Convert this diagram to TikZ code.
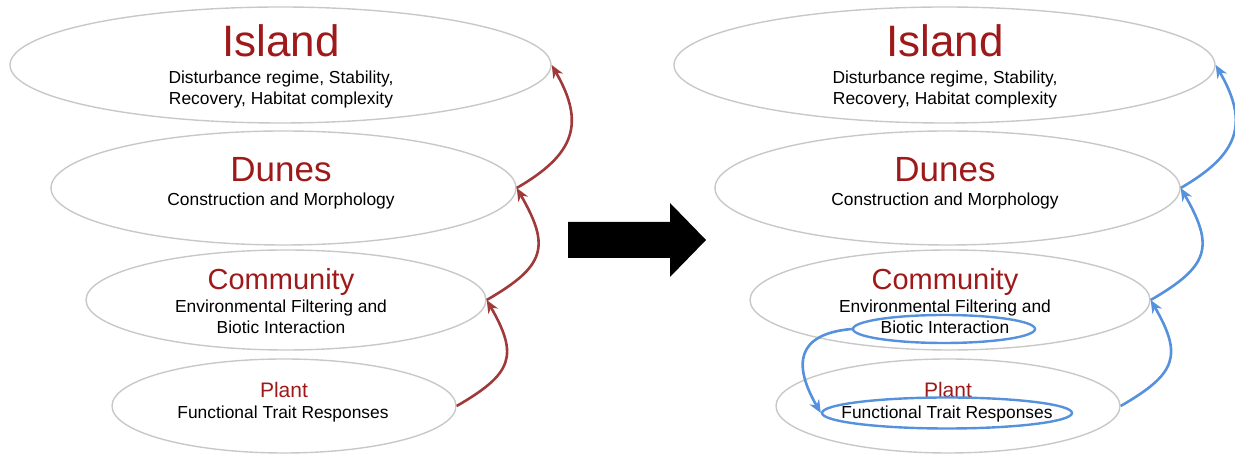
\documentclass[tikz,border=0pt]{standalone}
\usepackage{fontspec}
\setmainfont{Liberation Sans}
\usetikzlibrary{shapes.geometric,arrows.meta}

\definecolor{titlered}{HTML}{9E1A1A}
\definecolor{linkred}{HTML}{A03A3A}
\definecolor{linkblue}{HTML}{5591DC}
\definecolor{rimgray}{HTML}{C8C8C8}

\begin{document}
\begin{tikzpicture}[x=1pt,y=1pt,
    ring/.style={ellipse, draw=rimgray, line width=1.4pt, inner sep=0pt},
    hilite/.style={ellipse, draw=linkblue, line width=2.4pt, inner sep=0pt},
    ringtitle/.style={anchor=base, inner sep=0pt, text=titlered},
    ringtext/.style={anchor=base, inner sep=0pt, align=center, font=\fontsize{17.4}{21}\selectfont},
    uplink/.style={line width=2.6pt, -{Stealth[length=13pt,width=11pt]}, out=30, in=-60, looseness=1.5}]
    \useasboundingbox (0,0) rectangle (1235,454);
    % Horizontal offset of the right-hand stack
    \def\dx{664}

    % Left stack of levels
    \node[ring, minimum width=541pt, minimum height=116pt] (islandL) at (280.5,389) {};
    \node[ring, minimum width=465pt, minimum height=114pt] (dunesL) at (283.5,266) {};
    \node[ring, minimum width=400pt, minimum height=100pt] (commL) at (286,154) {};
    \node[ring, minimum width=344pt, minimum height=94pt] (plantL) at (284,48) {};

    \node[ringtitle, font=\fontsize{44}{48}\selectfont] (islandLt) at (281,397) {Island};
    \node[ringtext] (islandLd) at (281,349) {Disturbance regime, Stability,\\Recovery, Habitat complexity};
    \node[ringtitle, font=\fontsize{35}{40}\selectfont] (dunesLt) at (281,272) {Dunes};
    \node[ringtext] (dunesLd) at (281,248) {Construction and Morphology};
    \node[ringtitle, font=\fontsize{29}{34}\selectfont] (commLt) at (281,164) {Community};
    \node[ringtext] (commLd) at (281,120) {Environmental Filtering and\\Biotic Interaction};
    \node[ringtitle, font=\fontsize{21}{25}\selectfont] (plantLt) at (284,56) {Plant};
    \node[ringtext] (plantLd) at (283,35) {Functional Trait Responses};

    % Red links climbing the left stack
    \draw[uplink, linkred] (plantL.east) to (commL.east);
    \draw[uplink, linkred] (commL.east) to (dunesL.east);
    \draw[uplink, linkred, looseness=1.35] (dunesL.east) to (islandL.east);

    % Big block arrow between the two stacks
    \fill (568,196) -- (670,196) -- (670,177) -- (706,214) -- (670,251) -- (670,232) -- (568,232) -- cycle;

    % Right stack of levels
    \node[ring, minimum width=541pt, minimum height=116pt] (islandR) at (280.5+\dx,389) {};
    \node[ring, minimum width=465pt, minimum height=114pt] (dunesR) at (283.5+\dx,266) {};
    \node[ring, minimum width=400pt, minimum height=100pt] (commR) at (286+\dx,154) {};
    \node[ring, minimum width=344pt, minimum height=94pt] (plantR) at (284+\dx,48) {};

    \node[ringtitle, font=\fontsize{44}{48}\selectfont] (islandRt) at (281+\dx,397) {Island};
    \node[ringtext] (islandRd) at (281+\dx,349) {Disturbance regime, Stability,\\Recovery, Habitat complexity};
    \node[ringtitle, font=\fontsize{35}{40}\selectfont] (dunesRt) at (281+\dx,272) {Dunes};
    \node[ringtext] (dunesRd) at (281+\dx,248) {Construction and Morphology};
    \node[ringtitle, font=\fontsize{29}{34}\selectfont] (commRt) at (281+\dx,164) {Community};
    \node[ringtext] (commRd) at (281+\dx,120) {Environmental Filtering and\\Biotic Interaction};
    \node[ringtitle, font=\fontsize{21}{25}\selectfont] (plantRt) at (284+\dx,56) {Plant};
    \node[ringtext] (plantRd) at (283+\dx,35) {Functional Trait Responses};

    % Highlighted phrases and the feedback between them
    \node[hilite, minimum width=182pt, minimum height=28pt] (bioticR) at (944,125) {};
    \node[hilite, minimum width=250pt, minimum height=31pt] (functR) at (947,41) {};
    \draw[line width=2.6pt, linkblue, -{Stealth[length=13pt,width=11pt]}] (bioticR.west) to[out=185, in=120, looseness=1.6] (functR.west);

    % Blue links climbing the right stack
    \draw[uplink, linkblue] (plantR.east) to (commR.east);
    \draw[uplink, linkblue] (commR.east) to (dunesR.east);
    \draw[uplink, linkblue, looseness=1.35] (dunesR.east) to (islandR.east);
\end{tikzpicture}
\end{document}
